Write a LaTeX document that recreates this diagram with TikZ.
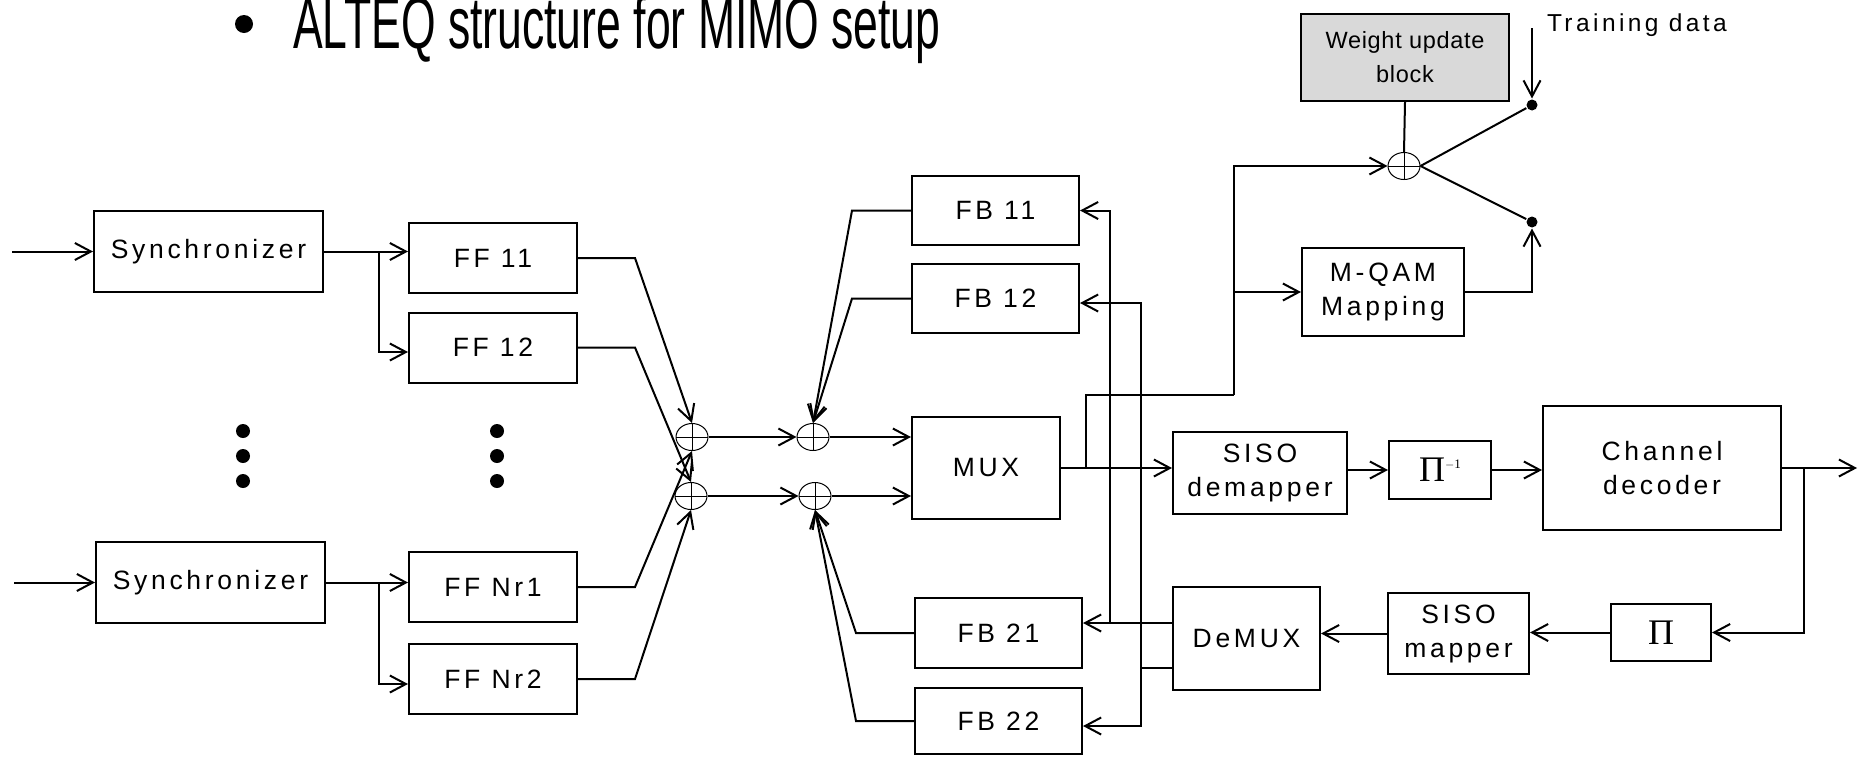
\documentclass[tikz,border=0pt]{standalone}
\usepackage{graphicx}
\usepackage{fontspec}
\setmainfont{Liberation Sans}[LetterSpace=14]
\newfontfamily\titlefont{Liberation Sans}
\newfontfamily\smallfont{Liberation Sans}[LetterSpace=3]
\newfontfamily\pifont{Liberation Serif}
\usetikzlibrary{arrows.meta,shapes.geometric}
\tikzset{
  blk/.style={draw, line width=2pt, inner sep=0pt, align=center, font=\fontsize{26.5}{34}\selectfont},
  adder/.style={ellipse, draw, line width=1pt, minimum width=32pt, minimum height=27pt, inner sep=0pt,
    path picture={\draw[line width=1pt] (path picture bounding box.north) -- (path picture bounding box.south)
      (path picture bounding box.west) -- (path picture bounding box.east);}},
  tapdot/.style={circle, fill, inner sep=0pt, minimum size=11pt},
}
\newcommand{\bigpi}{{\pifont\fontsize{36}{36}\selectfont Π}}
\begin{document}
\begin{tikzpicture}[x=1pt, y=-1pt, line width=2pt, >={Straight Barb[length=16pt,width=17pt]}]
  \useasboundingbox (0,0) rectangle (1867,756);
  \clip (0,0) rectangle (1867,756);
  % title
  \node[circle, fill, inner sep=0pt, minimum size=18pt] (bullet) at (244,24) {};
  \node[anchor=base west, inner sep=0pt] (title) at (292,48)
    {\scalebox{0.61}[1]{\titlefont\fontsize{73}{80}\selectfont ALTEQ structure for MIMO setup}};

  % receive antennas
  \node[blk, minimum width=229pt, minimum height=81pt] (sync1) at (208.5,251.5) {Synchronizer};
  \node[blk, minimum width=229pt, minimum height=81pt] (sync2) at (210.5,582.5) {Synchronizer};
  \node[blk, minimum width=168pt, minimum height=70pt] (ff11) at (493,258) {FF 11};
  \node[blk, minimum width=168pt, minimum height=70pt] (ff12) at (493,347.5) {FF 12};
  \node[blk, minimum width=168pt, minimum height=70pt] (ffn1) at (493,587) {FF Nr1};
  \node[blk, minimum width=168pt, minimum height=70pt] (ffn2) at (493,679) {FF Nr2};
  \foreach \y in {431,456,481} {
    \fill (243,\y) circle (7pt);
    \fill (497,\y) circle (7pt);
  }

  % adders
  \node[adder] (a1) at (692,437) {};
  \node[adder] (a2) at (691,496) {};
  \node[adder] (a3) at (813,437) {};
  \node[adder] (a4) at (815,496) {};

  % feedback filters and mux
  \node[blk, minimum width=167pt, minimum height=69pt] (fb11) at (995.5,210.5) {FB 11};
  \node[blk, minimum width=167pt, minimum height=69pt] (fb12) at (995.5,298.5) {FB 12};
  \node[blk, minimum width=167pt, minimum height=70pt] (fb21) at (998.5,633) {FB 21};
  \node[blk, minimum width=167pt, minimum height=66pt] (fb22) at (998.5,721) {FB 22};
  \node[blk, minimum width=148pt, minimum height=102pt] (mux) at (986,468) {MUX};

  % decoding chain
  \node[blk, minimum width=174pt, minimum height=82pt] (demap) at (1260,473) {SISO\\demapper};
  \node[blk, minimum width=102pt, minimum height=58pt] (pinv) at (1440,470)
    {\bigpi\raisebox{13pt}{\pifont\fontsize{13}{13}\selectfont $-$1}};
  \node[blk, minimum width=238pt, minimum height=124pt] (dec) at (1662,468) {Channel\\decoder};
  \node[blk, minimum width=100pt, minimum height=57pt] (pi) at (1661,632.5) {\bigpi};
  \node[blk, minimum width=141pt, minimum height=81pt] (map) at (1458.5,633.5) {SISO\\mapper};
  \node[blk, minimum width=147pt, minimum height=103pt] (demux) at (1246.5,638.5) {DeMUX};

  % weight update
  \node[blk, fill=black!15, minimum width=208pt, minimum height=87pt, font=\smallfont\fontsize{23.5}{34}\selectfont] (wub) at (1405,57.5) {Weight update\\block};
  \node[adder] (aw) at (1404,166) {};
  \node[blk, minimum width=162pt, minimum height=88pt] (qam) at (1383,292) {M-QAM\\Mapping};
  \node[tapdot] (d1) at (1532,105) {};
  \node[tapdot] (d2) at (1532,222) {};
  \node[anchor=base west, inner sep=0pt, font=\fontsize{24.5}{28}\selectfont] (train) at (1546,31) {Training data};

  \coordinate (in1) at (12,251.5);
  \coordinate (in2) at (14,582.5);
  \coordinate (b1) at (379,251.5);
  \coordinate (b2) at (379,582.5);
  \coordinate (o1) at (1173,623);
  \coordinate (o2) at (1173,668);
  \coordinate (v1) at (1110,623);
  \coordinate (v2) at (1141,668);
  \coordinate (m1) at (1086,468);
  \coordinate (m2) at (1234,395);
  \coordinate (tr) at (1532,28);
  \coordinate (b3) at (1804,468);
  \coordinate (out) at (1857,468);

  \draw[->] (in1) -- (sync1.west);
  \draw[->] (in2) -- (sync2.west);
  \draw[->] (sync1.east) -- (sync1.east -| ff11.west);
  \draw[->] (b1) |- ([yshift=-4.5pt]ff12.west);
  \draw[->] (sync2.east) -- (sync2.east -| ffn1.west);
  \draw[->] (b2) |- ([yshift=-5pt]ffn2.west);

  \draw[->] (ff11.east) -- ++(57,0) -- (a1.north);
  \draw[->] (ffn1.east) -- ++(57,0) -- (a1.south);
  \draw[->] (ff12.east) -- ++(57,0) -- (a2.north);
  \draw[->] (ffn2.east) -- ++(57,0) -- (a2.south);
  \draw[->] (a1.east) -- (a3.west);
  \draw[->] (a2.east) -- (a4.west);
  \draw[->] (a3.east) -- (a3.east -| mux.west);
  \draw[->] (a4.east) -- (a4.east -| mux.west);
  \draw[->] (fb11.west) -- ++(-59,0) -- (a3.north);
  \draw[->] (fb12.west) -- ++(-59,0) -- (a3.north);
  \draw[->] (fb21.west) -- ++(-58,0) -- (a4.south);
  \draw[->] (fb22.west) -- ++(-58,0) -- (a4.south);

  \draw[->] (o1) -- (o1 -| fb21.east);
  \draw[->] (v1) |- (fb11.east);
  \draw (o2) -- (v2);
  \draw[->] (v2) |- ([yshift=-4.5pt]fb12.east);
  \draw[->] (v2) |- ([yshift=-5pt]fb22.east);

  \draw[->] (mux.east) -- (mux.east -| demap.west);
  \draw (m1) |- (m2);
  \draw[->] (m2) |- (aw.west);
  \draw[->] (m2 |- qam) -- (qam.west);
  \draw (wub.south) -- (aw.north);
  \draw (aw.east) -- (d1);
  \draw (aw.east) -- (d2);
  \draw[->] (tr) -- (d1.north);
  \draw[->] (qam.east) -| (d2.south);

  \draw[->] (pinv.west -| demap.east) -- (pinv.west);
  \draw[->] (pinv.east) -- (pinv.east -| dec.west);
  \draw[->] (dec.east) -- (out);
  \draw[->] (b3) |- (pi.east);
  \draw[->] (pi.west) -- (pi.west -| map.east);
  \draw[->] (map.west) -- (map.west -| demux.east);
\end{tikzpicture}
\end{document}
